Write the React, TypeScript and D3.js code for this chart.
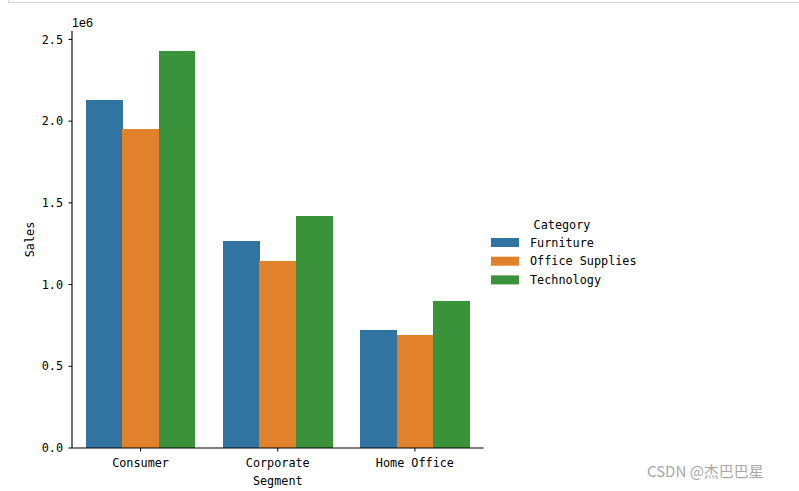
import React, { useEffect } from "react";
import * as d3 from "d3";

const segments = ["Consumer", "Corporate", "Home Office"];
const categories = ["Furniture", "Office Supplies", "Technology"];
const furniture = [2.130e6, 1.267e6, 0.722e6];
const officeSupplies = [1.952e6, 1.144e6, 0.692e6];
const technology = [2.430e6, 1.420e6, 0.900e6];
const seriesValues = [furniture, officeSupplies, technology];
const yTicks = [0, 0.5e6, 1.0e6, 1.5e6, 2.0e6, 2.5e6];
const colors = ["#3274a1", "#e1812c", "#3a923a"];

const W = 799;
const H = 491;
const M = { left: 72, right: 483.5, top: 31, bottom: 448 };
const FONT = "'DejaVu Sans Mono', monospace";

export default function App() {
  useEffect(() => {
    document.body.style.margin = "0";
  }, []);

  const maxV = d3.max(seriesValues.flat()) as number;
  const y = d3.scaleLinear().domain([0, maxV * 1.05]).range([M.bottom, M.top]);
  const x0 = d3.scaleBand<string>().domain(segments).range([M.left, M.right]).paddingInner(0).paddingOuter(0);
  const bw = x0.bandwidth();
  const x1 = d3.scaleBand<string>().domain(categories).range([0, bw * 0.8]);

  return (
    <svg width={W} height={H} style={{ display: "block", background: "#fff" }}>
      {/* top frame remnant */}
      <path d="M8.5,0 V2.5 H799" fill="none" stroke="#d4d4d4" strokeWidth={1} />

      {/* bars */}
      {segments.map((s, i) => (
        <g key={s} transform={`translate(${(x0(s) as number) + bw * 0.1},0)`}>
          {categories.map((c, j) => (
            <rect
              key={c}
              x={x1(c) as number}
              y={y(seriesValues[j][i])}
              width={x1.bandwidth() + (j < categories.length - 1 ? 0.5 : 0)}
              height={M.bottom - y(seriesValues[j][i])}
              fill={colors[j]}
              shapeRendering="crispEdges"
            />
          ))}
        </g>
      ))}

      {/* y axis */}
      <line x1={M.left} x2={M.left} y1={M.top} y2={M.bottom} stroke="#000" strokeWidth={1.1} />
      {yTicks.map((t) => (
        <g key={t}>
          <line x1={M.left - 3.5} x2={M.left} y1={y(t)} y2={y(t)} stroke="#000" strokeWidth={1} />
          <text
            x={M.left - 9}
            y={y(t)}
            dy="0.35em"
            textAnchor="end"
            fontFamily={FONT}
            fontSize={11.8}
            fill="#000"
          >
            {(t / 1e6).toFixed(1)}
          </text>
        </g>
      ))}
      <text x={M.left} y={27} fontFamily="'Liberation Sans', Arial, sans-serif" fontSize={12.5} fill="#000">
        1e6
      </text>
      <text
        transform={`translate(34,${(M.top + M.bottom) / 2}) rotate(-90)`}
        textAnchor="middle"
        fontFamily={FONT}
        fontSize={11.8}
        fill="#000"
      >
        Sales
      </text>

      {/* x axis */}
      <line x1={M.left} x2={M.right} y1={M.bottom} y2={M.bottom} stroke="#000" strokeWidth={1.1} />
      {segments.map((s) => {
        const cx = (x0(s) as number) + bw / 2;
        return (
          <g key={s}>
            <line x1={cx} x2={cx} y1={M.bottom} y2={M.bottom + 3.5} stroke="#000" strokeWidth={1} />
            <text x={cx} y={467} textAnchor="middle" fontFamily={FONT} fontSize={11.8} fill="#000">
              {s}
            </text>
          </g>
        );
      })}
      <text x={(M.left + M.right) / 2} y={484.5} textAnchor="middle" fontFamily={FONT} fontSize={11.8} fill="#000">
        Segment
      </text>

      {/* legend */}
      <text x={562} y={229} textAnchor="middle" fontFamily={FONT} fontSize={11.8} fill="#000">
        Category
      </text>
      {categories.map((c, j) => (
        <g key={c} transform={`translate(491,${238 + j * 18.7})`}>
          <rect x={0} y={0} width={28} height={9} fill={colors[j]} />
          <text x={39} y={4.5} dy="0.35em" fontFamily={FONT} fontSize={11.8} fill="#000">
            {c}
          </text>
        </g>
      ))}

      {/* watermark */}
      <text x={647} y={477} fontFamily="'Noto Sans CJK SC', 'Noto Sans', sans-serif" fontSize={15} fill="#a8a8a8">
        CSDN @杰巴巴星
      </text>
    </svg>
  );
}
